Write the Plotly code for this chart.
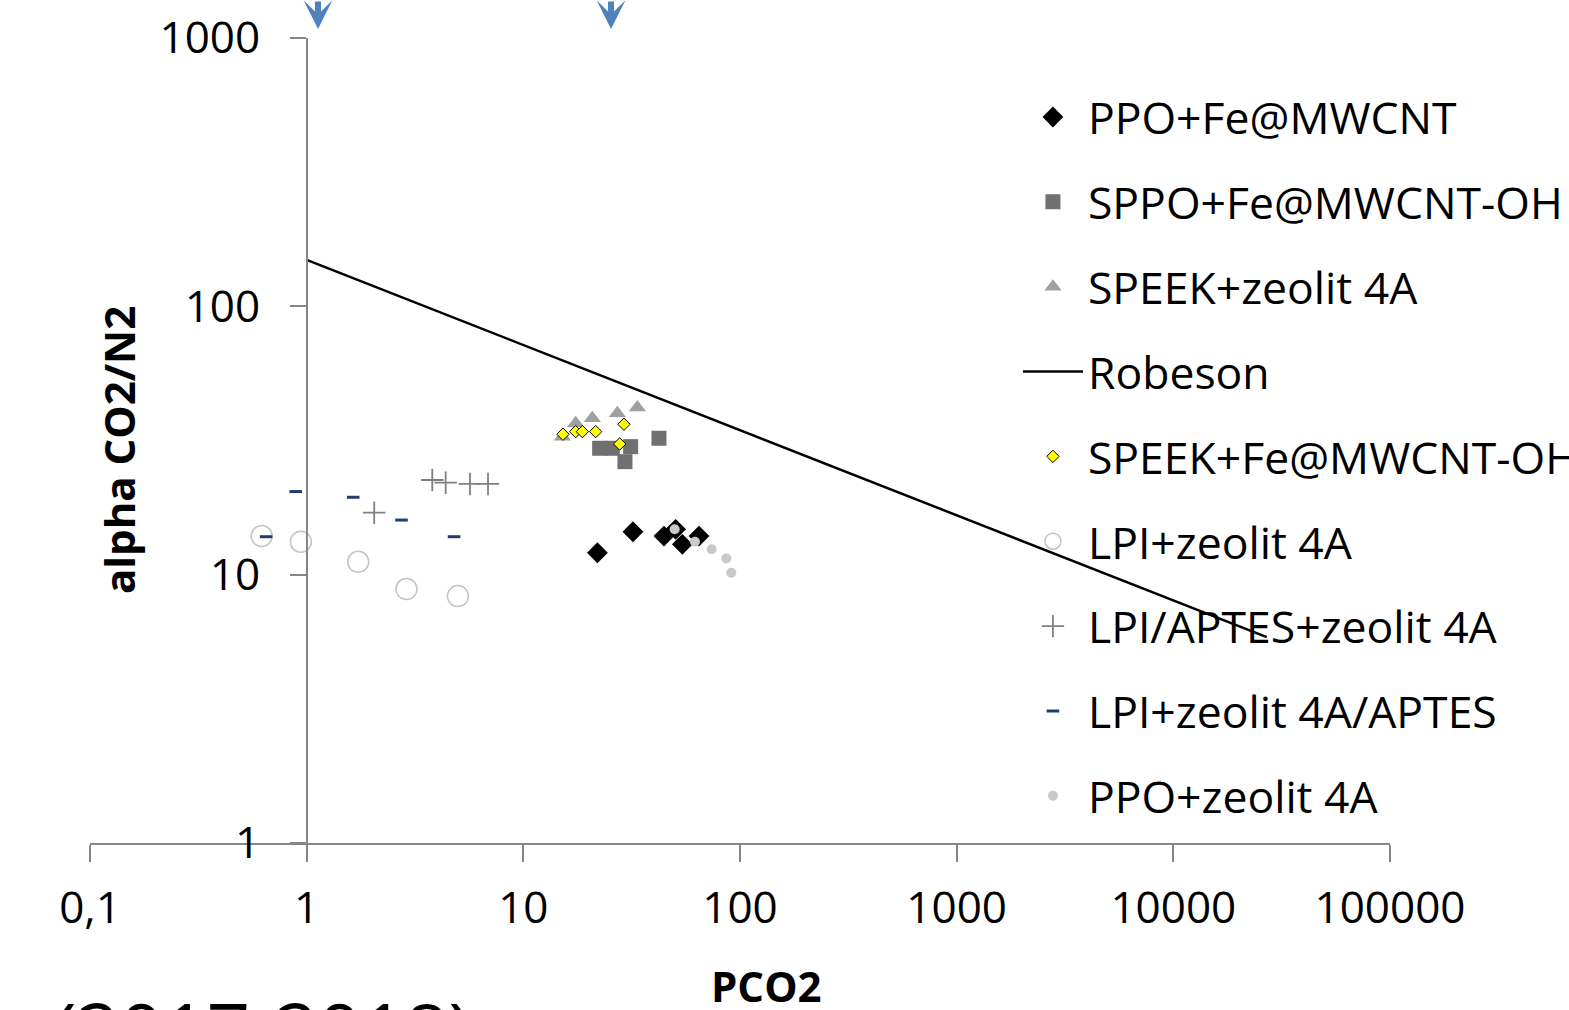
import plotly.graph_objects as go

# ---------------- data ----------------
ppo_fe_x = [21.97, 32.06, 44.57, 50.47, 54.2, 64.67]
ppo_fe_y = [12.07, 14.45, 13.93, 14.76, 12.97, 13.93]

sppo_fe_x = [22.5, 25.76, 31.29, 29.45, 42.27]
sppo_fe_y = [29.58, 29.58, 30.0, 26.37, 32.24]

speek_z_x = [15.14, 17.44, 20.83, 27.16, 33.6]
speek_z_y = [32.68, 36.67, 38.28, 39.96, 41.93]

robeson_x = [1, 27000]
robeson_y = [149, 5.85]

speek_fe_x = [15.24, 17.44, 18.73, 21.57, 29.14, 27.84]
speek_fe_y = [33.37, 34.12, 34.12, 34.12, 36.36, 30.70]

lpi_z_x = [0.62, 0.94, 1.73, 2.89, 4.99]
lpi_z_y = [13.93, 13.27, 11.17, 8.84, 8.32]

lpi_aptes_z_x = [2.05, 3.80, 4.38, 5.67, 6.87]
lpi_aptes_z_y = [17.02, 22.53, 22.02, 21.78, 21.78]

lpi_z_aptes_x = [0.89, 1.64, 2.74, 0.65, 4.79]
lpi_z_aptes_y = [20.4, 19.43, 15.98, 13.85, 13.85]

ppo_z_x = [49.95, 61.95, 73.97, 86.5, 91.2]
ppo_z_y = [14.76, 13.27, 12.43, 11.5, 10.16]

x_tickvals = [0.1, 1, 10, 100, 1000, 10000, 100000]
x_ticktext = ["0,1", "1", "10", "100", "1000", "10000", "100000"]
y_tickvals = [1, 10, 100, 1000]
y_ticktext = ["1", "10", "100", "1000"]

FONT = "Open Sans"
AXC = "#868686"

fig = go.Figure()


def add_marker(name, xs, ys, marker, group):
    fig.add_trace(go.Scatter(x=xs, y=ys, mode="markers", name=name,
                             marker=marker, legendgroup=group))


add_marker("PPO+Fe@MWCNT", ppo_fe_x, ppo_fe_y,
           dict(symbol="diamond", size=16, color="#000000"), "g1")
add_marker("SPPO+Fe@MWCNT-OH", sppo_fe_x, sppo_fe_y,
           dict(symbol="square", size=15, color="#707070"), "g2")
add_marker("SPEEK+zeolit 4A", speek_z_x, speek_z_y,
           dict(symbol="triangle-up", size=15, color="#A0A0A0"), "g3")
fig.add_trace(go.Scatter(x=robeson_x, y=robeson_y, mode="lines", name="Robeson",
                         line=dict(color="#000000", width=2.5), legendgroup="g4"))
add_marker("SPEEK+Fe@MWCNT-OH", speek_fe_x, speek_fe_y,
           dict(symbol="diamond", size=9.5, color="#FFFF00",
                line=dict(color="#000000", width=1)), "g5")
add_marker("LPI+zeolit 4A", lpi_z_x, lpi_z_y,
           dict(symbol="circle-open", size=21, color="#C4C4C4",
                line=dict(width=1.5)), "g6")
add_marker("LPI/APTES+zeolit 4A", lpi_aptes_z_x, lpi_aptes_z_y,
           dict(symbol="cross-thin-open", size=16, color="#808080",
                line=dict(width=1.8, color="#808080")), "g7")
add_marker("LPI+zeolit 4A/APTES", lpi_z_aptes_x, lpi_z_aptes_y,
           dict(symbol="line-ew-open", size=9, color="#1F3B70",
                line=dict(width=3, color="#1F3B70")), "g8")
add_marker("PPO+zeolit 4A", ppo_z_x, ppo_z_y,
           dict(symbol="circle", size=10, color="#C8C8C8"), "g9")

fig.update_layout(
    width=1569, height=1010,
    margin=dict(l=90, r=179, t=38, b=167, autoexpand=False),
    paper_bgcolor="white", plot_bgcolor="white",
    font=dict(family=FONT, color="#000000", size=44),
    showlegend=True,
    legend=dict(x=0.7138, xanchor="left", y=0.9459, yanchor="top",
                bgcolor="rgba(0,0,0,0)", font=dict(family=FONT, size=44.5, color="#000000"),
                tracegroupgap=24, itemwidth=60),
    xaxis=dict(type="log", range=[-1, 5], showgrid=False, zeroline=False,
               showline=True, linecolor=AXC, linewidth=1.5,
               ticks="outside", ticklen=17, tickcolor=AXC, tickwidth=1.5,
               tickvals=x_tickvals, ticktext=x_ticktext,
               tickfont=dict(family=FONT, size=44, color="#000000"),
               ticklabelstandoff=8, automargin=False),
    yaxis=dict(type="log", range=[0, 3], showgrid=False, zeroline=False,
               anchor="free", position=1 / 6,
               showline=True, linecolor=AXC, linewidth=1.5,
               ticks="outside", ticklen=16, tickcolor=AXC, tickwidth=1.5,
               tickvals=y_tickvals, ticktext=y_ticktext,
               tickfont=dict(family=FONT, size=44, color="#000000"),
               ticklabelstandoff=21, automargin=False),
)

# axis titles
fig.add_annotation(text="<b>alpha CO2/N2</b>", xref="paper", yref="paper",
                   x=0.0215, y=0.488, xanchor="center", yanchor="middle",
                   textangle=-90, showarrow=False,
                   font=dict(family=FONT, size=42, color="#000000"))
fig.add_annotation(text="<b>PCO2</b>", xref="paper", yref="paper",
                   x=0.52, y=-0.177, xanchor="center", yanchor="middle",
                   showarrow=False,
                   font=dict(family=FONT, size=42, color="#000000"))

# slide artefacts: blue arrows at the top and cut-off text at the bottom
for xp in [0.1754, 0.4008]:
    fig.add_annotation(text="", xref="paper", yref="paper", x=xp, y=1.0112,
                       ax=0, ay=-45, showarrow=True, arrowhead=3, arrowsize=0.8,
                       arrowwidth=6, arrowcolor="#4F81BD")
fig.add_annotation(text="1  (2017-2018)", xref="paper", yref="paper",
                   x=0.2946, y=-0.1652, xanchor="right", yanchor="top",
                   showarrow=False, font=dict(family=FONT, size=76, color="#000000"))

fig.write_html("out.html", config={"displayModeBar": False},
               post_script="document.body.style.margin='0px';"
                           "document.body.style.overflow='hidden';")
